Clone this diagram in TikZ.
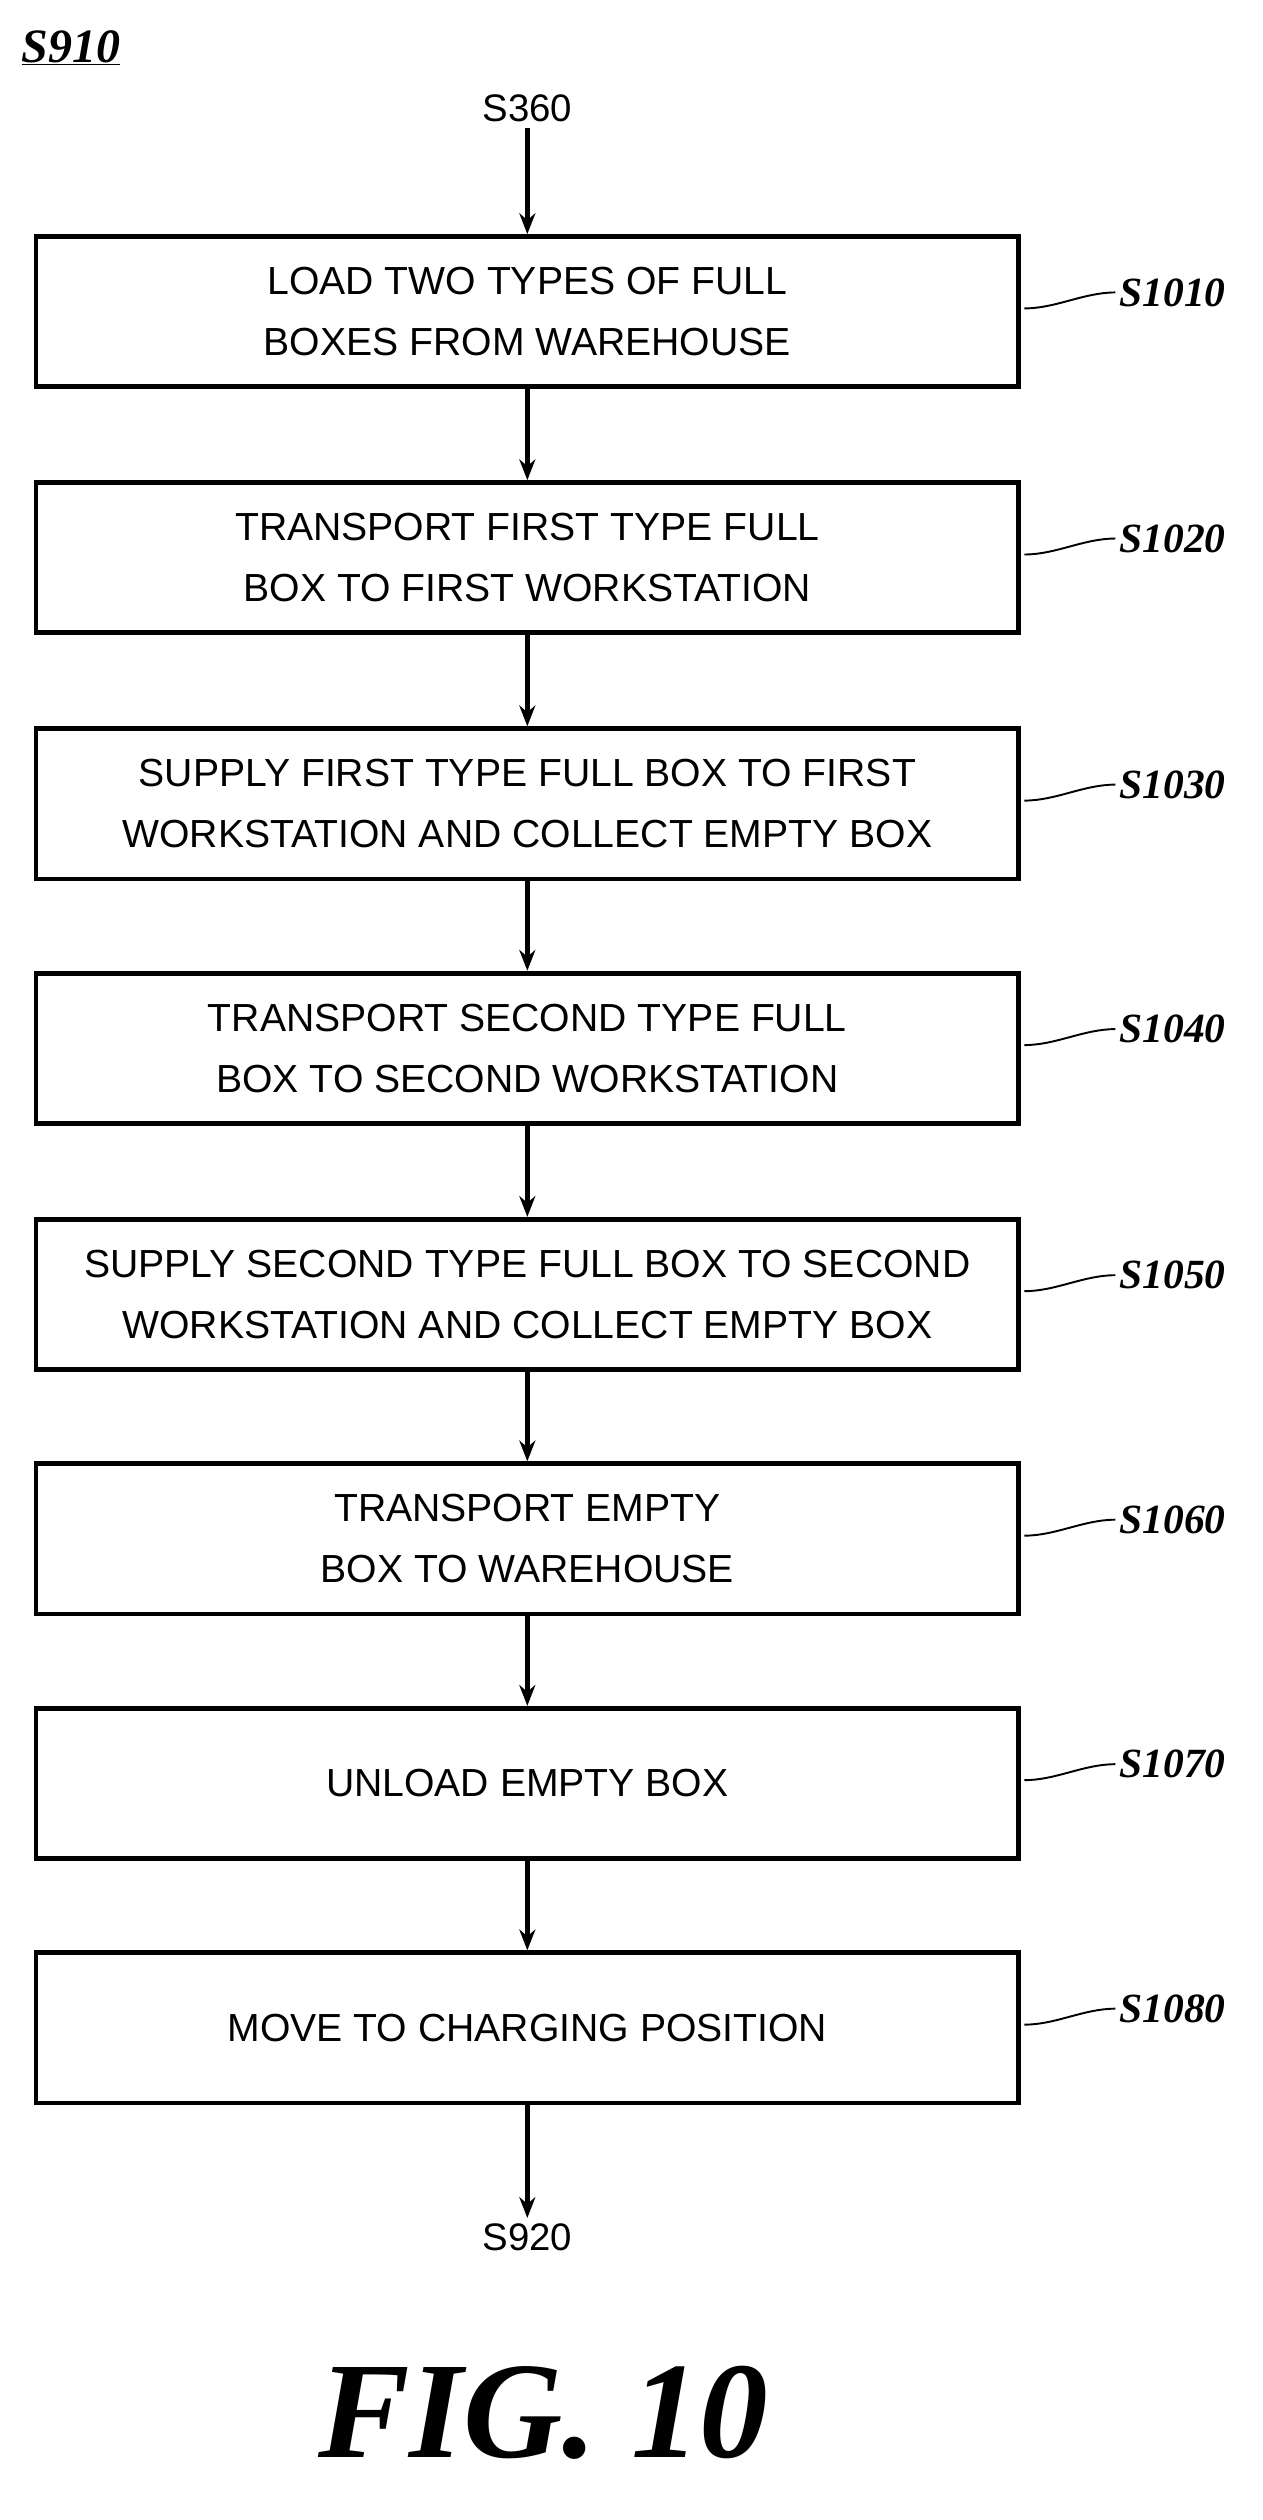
\documentclass[tikz,border=0pt]{standalone}
\usetikzlibrary{arrows.meta}
\usepackage{fontspec}
\setmainfont{Liberation Serif}
\setsansfont{Liberation Sans}
\begin{document}
\begin{tikzpicture}[x=1pt,y=-1pt,
 box/.style={draw,line width=3pt,minimum width=615pt,minimum height=94pt,align=center,font=\sffamily\fontsize{24.5}{38}\selectfont},
 lab/.style={font=\bfseries\itshape\fontsize{26}{30}\selectfont,anchor=west},
 arr/.style={line width=3pt,-{Stealth[length=13pt,width=10pt]}},
 ter/.style={font=\sffamily\fontsize{24}{28}\selectfont}]
\useasboundingbox (0,0) rectangle (790,1577);
\node[anchor=west,font=\bfseries\itshape\fontsize{30}{32}\selectfont] (t) at (10,30) {\underline{S910}};
\node[ter] (s360) at (330,68) {S360};
\node[box] (b1) at (330,195) {LOAD TWO TYPES OF FULL\\BOXES FROM WAREHOUSE};
\node[box] (b2) at (330,349) {TRANSPORT FIRST TYPE FULL\\BOX TO FIRST WORKSTATION};
\node[box] (b3) at (330,503) {SUPPLY FIRST TYPE FULL BOX TO FIRST\\WORKSTATION AND COLLECT EMPTY BOX};
\node[box] (b4) at (330,656) {TRANSPORT SECOND TYPE FULL\\BOX TO SECOND WORKSTATION};
\node[box] (b5) at (330,810) {SUPPLY SECOND TYPE FULL BOX TO SECOND\\WORKSTATION AND COLLECT EMPTY BOX};
\node[box] (b6) at (330,963) {TRANSPORT EMPTY\\BOX TO WAREHOUSE};
\node[box] (b7) at (330,1116) {UNLOAD EMPTY BOX};
\node[box] (b8) at (330,1269) {MOVE TO CHARGING POSITION};
\node[ter] (s920) at (330,1400) {S920};
\foreach \i/\l in {1/S1010,2/S1020,3/S1030,4/S1040,5/S1050,6/S1060,7/S1070,8/S1080}{
 \node[lab] (l\i) at ([xshift=58pt,yshift=12pt]b\i.east) {\l};
 \draw[line width=1.2pt] ([xshift=2pt,yshift=2pt]b\i.east) .. controls +(20,0) and +(-20,0) .. ([xshift=1pt]l\i.west);
}
\draw[arr] (s360) -- (b1);
\foreach \a/\b in {1/2,2/3,3/4,4/5,5/6,6/7,7/8}{\draw[arr] (b\a) -- (b\b);}
\draw[arr] (b8) -- (s920);
\node[font=\bfseries\itshape\fontsize{86}{86}\selectfont] (fig) at (340,1510) {FIG. 10};
\end{tikzpicture}
\end{document}
